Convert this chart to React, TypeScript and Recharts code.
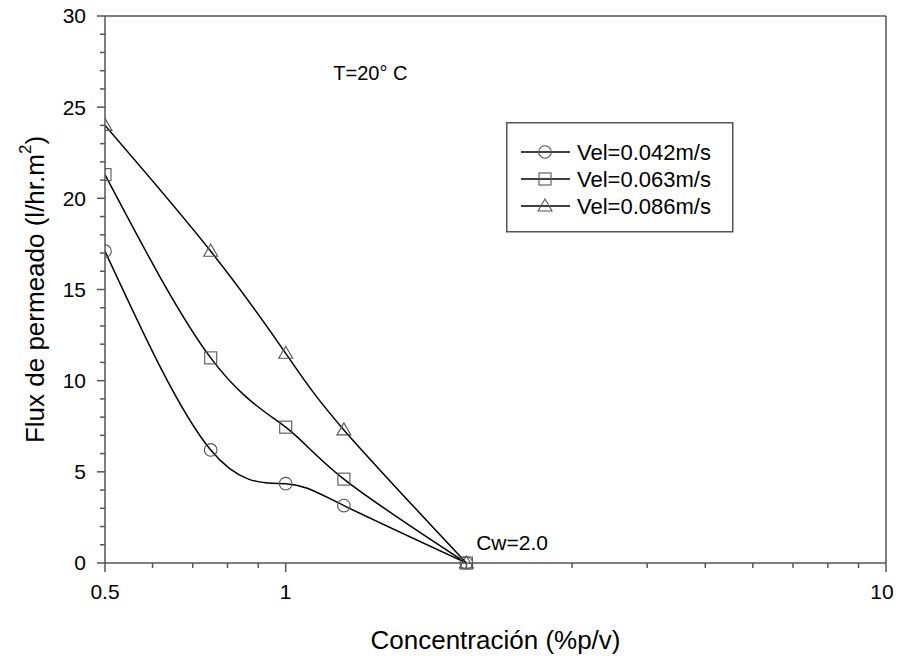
import React from 'react';
import { LineChart, Line, XAxis, YAxis, Legend, ReferenceDot, ReferenceLine } from 'recharts';

const concentrations = [0.5, 0.75, 1.0, 1.25, 2.0];
const vel042 = [17.1, 6.2, 4.35, 3.15, 0];
const vel063 = [21.3, 11.25, 7.45, 4.6, 0];
const vel086 = [24.0, 17.1, 11.5, 7.3, 0];
const seriesNames = ['Vel=0.042m/s', 'Vel=0.063m/s', 'Vel=0.086m/s'];
const xMajorTicks = [0.5, 1, 10];
const xAllTicks = [0.5, 0.6, 0.7, 0.8, 0.9, 1, 2, 3, 4, 5, 6, 7, 8, 9, 10];
const yAllTicks = [0, 1, 2, 3, 4, 5, 6, 7, 8, 9, 10, 11, 12, 13, 14, 15, 16, 17, 18, 19, 20, 21, 22, 23, 24, 25, 26, 27, 28, 29, 30];
const yMajorTicks = [0, 5, 10, 15, 20, 25, 30];
const tempNote = { x: 1.2, y: 26.5, text: 'T=20° C' };
const cwNote = { x: 2.076, y: 0.7, text: 'Cw=2.0' };

const data = concentrations.map((c, i) => ({ c, a: vel042[i], b: vel063[i], d: vel086[i] }));

const FONT = '"Liberation Sans", Arial, sans-serif';
const AXIS = '#555';
const MARK = '#555';

const drawMarker = (shape: string, cx: number, cy: number, key?: any) => {
  if (shape === 'circle') return <circle key={key} cx={cx} cy={cy} r={6.3} fill="none" stroke={MARK} strokeWidth={1.1} />;
  if (shape === 'square') return <rect key={key} x={cx - 6} y={cy - 6} width={12} height={12} fill="none" stroke={MARK} strokeWidth={1.1} />;
  return <polygon key={key} points={`${cx},${cy - 7} ${cx - 7},${cy + 5} ${cx + 7},${cy + 5}`} fill="none" stroke={MARK} strokeWidth={1.1} />;
};

const dotFor = (shape: string) => (p: any) => drawMarker(shape, p.cx, p.cy, `${shape}-${p.index}`);

const XTick = (props: any) => {
  const { x, y, payload } = props;
  const major = xMajorTicks.includes(payload.value);
  return (
    <g>
      <line x1={x} y1={y} x2={x} y2={y + (major ? 9 : 5)} stroke={AXIS} strokeWidth={1.5} />
      {major && (
        <text x={payload.value === 10 ? x - 4 : x} y={y + 36} textAnchor="middle" fontFamily={FONT} fontSize={21} fill="#000">
          {String(payload.value)}
        </text>
      )}
    </g>
  );
};

const YTick = (props: any) => {
  const { x, y, payload } = props;
  const major = yMajorTicks.includes(payload.value);
  return (
    <g>
      <line x1={x} y1={y} x2={x - (major ? 8 : 5)} y2={y} stroke={AXIS} strokeWidth={1.5} />
      {major && (
        <text x={x - 19} y={y} dy="0.35em" textAnchor="end" fontFamily={FONT} fontSize={21} fill="#000">
          {String(payload.value)}
        </text>
      )}
    </g>
  );
};

const YTitle = (props: any) => {
  const vb = props.viewBox || { x: 0, y: 8, width: 97, height: 547 };
  const cx = 27;
  const cy = vb.y + vb.height / 2;
  return (
    <text
      x={cx}
      y={cy}
      transform={`rotate(-90, ${cx}, ${cy})`}
      textAnchor="middle"
      dominantBaseline="central"
      fontFamily={FONT}
      fontSize={26}
      fill="#000"
    >
      Flux de permeado (l/hr.m
      <tspan dy={-10} fontSize={17}>2</tspan>
      <tspan dy={10}>)</tspan>
    </text>
  );
};

const XTitle = (props: any) => {
  const vb = props.viewBox || { x: 97, y: 555, width: 781, height: 93 };
  return (
    <text x={vb.x + vb.width / 2} y={641} textAnchor="middle" fontFamily={FONT} fontSize={26} fill="#000">
      Concentración (%p/v)
    </text>
  );
};

const NoteLabel = (text: string, size: number) => (props: any) => {
  const vb = props.viewBox;
  return (
    <text x={vb.x} y={vb.y} fontFamily={FONT} fontSize={size} fill="#000">
      {text}
    </text>
  );
};

const shapes = ['circle', 'square', 'triangle'];

const LegendBox = () => (
  <svg width={228} height={111} style={{ display: 'block' }}>
    <rect x={0.75} y={0.75} width={226} height={109} fill="#fff" stroke={AXIS} strokeWidth={1.5} />
    {seriesNames.map((name, i) => {
      const yy = 30 + i * 27;
      return (
        <g key={name}>
          <line x1={15} y1={yy} x2={64} y2={yy} stroke="#000" strokeWidth={1.5} />
          {drawMarker(shapes[i], 39, yy)}
          <text x={71} y={yy} dy="0.35em" fontFamily={FONT} fontSize={22} fill="#000">
            {name}
          </text>
        </g>
      );
    })}
  </svg>
);

export default function App() {
  return (
    <div style={{ width: 896, height: 648, background: '#fff' }}>
      <LineChart width={896} height={648} data={data} margin={{ top: 8, right: 18, left: 0, bottom: 0 }}>
        <XAxis
          dataKey="c"
          type="number"
          scale="log"
          domain={[0.5, 10]}
          ticks={xAllTicks}
          interval={0}
          allowDataOverflow
          height={93}
          tickSize={0}
          tickMargin={0}
          tickLine={false}
          tick={<XTick />}
          axisLine={{ stroke: AXIS, strokeWidth: 1.5 }}
          label={<XTitle />}
        />
        <YAxis
          type="number"
          domain={[0, 30]}
          ticks={yAllTicks}
          interval={0}
          width={97}
          tickSize={0}
          tickMargin={0}
          tickLine={false}
          tick={<YTick />}
          axisLine={{ stroke: AXIS, strokeWidth: 1.5 }}
          label={<YTitle />}
        />
        <ReferenceLine y={30} stroke={AXIS} strokeWidth={1.5} />
        <ReferenceLine x={10} stroke={AXIS} strokeWidth={1.5} />
        <Line type="natural" dataKey="a" name={seriesNames[0]} stroke="#000" strokeWidth={1.5} dot={dotFor('circle')} isAnimationActive={false} />
        <Line type="natural" dataKey="b" name={seriesNames[1]} stroke="#000" strokeWidth={1.5} dot={dotFor('square')} isAnimationActive={false} />
        <Line type="natural" dataKey="d" name={seriesNames[2]} stroke="#000" strokeWidth={1.5} dot={dotFor('triangle')} isAnimationActive={false} />
        <ReferenceDot x={tempNote.x} y={tempNote.y} r={0} fill="none" stroke="none" label={NoteLabel(tempNote.text, 20)} />
        <ReferenceDot x={cwNote.x} y={cwNote.y} r={0} fill="none" stroke="none" label={NoteLabel(cwNote.text, 21)} />
        <Legend
          layout="vertical"
          align="center"
          verticalAlign="middle"
          content={() => <LegendBox />}
          wrapperStyle={{ position: 'absolute', left: 498, top: 114, width: 228, height: 111 }}
        />
      </LineChart>
    </div>
  );
}
